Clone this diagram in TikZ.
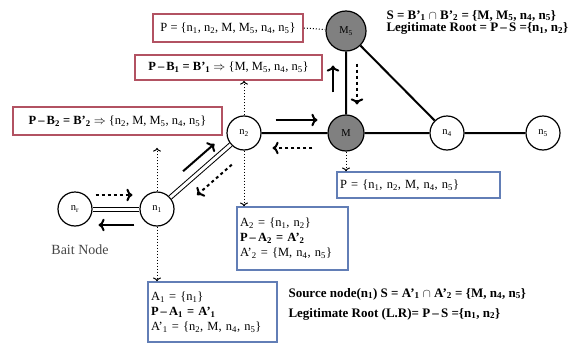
\documentclass[tikz,border=0pt]{standalone}
\usepackage{fontspec}
\setmainfont{Liberation Serif}
\usetikzlibrary{arrows,calc}
\usepackage{tkz-euclide}
\definecolor{NodeClr}{RGB}{128,128,128}
\definecolor{RedClr}{RGB}{178,82,98}
\definecolor{BlueClr}{RGB}{98,126,182}
\definecolor{TextClr}{RGB}{70,70,70}
\newcommand{\ix}[1]{\textsubscript{#1}}

\begin{document}
\begin{tikzpicture}[x=1pt,y=1pt,font=\fontsize{12.5}{15}\selectfont,
  vertex/.style={circle,draw,line width=1.2pt,minimum size=34pt,inner sep=0pt,font=\fontsize{10.5}{12}\selectfont},
  hub/.style={vertex,fill=NodeClr},
  link/.style={line width=2pt},
  twin/.style={line width=1pt,double,double distance=3pt},
  flow/.style={->,line width=2pt},
  info/.style={->,dotted,line width=1pt},
  redbox/.style={draw=RedClr,line width=1.6pt,inner sep=2pt},
  bluebox/.style={draw=BlueClr,line width=1.4pt,align=left,inner sep=3pt},
  note/.style={anchor=base west,font=\fontsize{13}{15}\selectfont\bfseries}]
\useasboundingbox (0,0) rectangle (580,349);

\tkzDefPoints{75/140/pR,157/140/pA,244/216/pB,346/216/pM,346/318/pN,447/216/pD,543/216/pE}

\node[vertex] (nr) at (pR) {n\ix{r}};
\node[vertex] (n1) at (pA) {n\ix1};
\node[vertex] (n2) at (pB) {n\ix2};
\node[hub,minimum size=36pt] (M) at (pM) {M};
\node[hub,minimum size=40pt] (M5) at (pN) {M\ix5};
\node[vertex] (n4) at (pD) {n\ix4};
\node[vertex] (n5) at (pE) {n\ix5};

\draw[twin] (nr) -- (n1);
\draw[twin] (n1) -- (n2);
\draw[link] (n2) -- (M) (M) -- (n4) (n4) -- (n5) (M) -- (M5) (M5) -- (n4);

\node[redbox,minimum width=150pt,minimum height=28pt] (Pr) at (228,321)
  {P = \{n\ix1, n\ix2, M, M\ix5, n\ix4, n\ix5\}};
\node[redbox,minimum width=187pt,minimum height=25pt] (Bone) at (228.5,281.5)
  {\textbf{P\,–\,B\ix1 = B'\ix1} $\Rightarrow$ \{M, M\ix5, n\ix4, n\ix5\}};
\node[redbox,minimum width=209pt,minimum height=28pt] (Btwo) at (117.5,228)
  {\textbf{P\,–\,B\ix2 = B'\ix2} $\Rightarrow$ \{n\ix2, M, M\ix5, n\ix4, n\ix5\}};
\node[bluebox,text width=157pt,minimum height=26pt] (Pb) at (418.5,164)
  {P = \{n\ix1, n\ix2, M, n\ix4, n\ix5\}};
\node[bluebox,text width=105pt,minimum height=63pt] (Atwo) at (292.5,110.5)
  {A\ix2 = \{n\ix1, n\ix2\}\\ \textbf{P\,–\,A\ix2 = A'\ix2}\\ A'\ix2 = \{M, n\ix4, n\ix5\}};
\node[bluebox,text width=123pt,minimum height=60pt] (Aone) at (212.5,37)
  {A\ix1 = \{n\ix1\}\\ \textbf{P\,–\,A\ix1 = A'\ix1}\\ A'\ix1 = \{n\ix2, M, n\ix4, n\ix5\}};

\node[note] (S) at (383,330) {S = B'\ix1 $\cap$ B'\ix2 = \{M, M\ix5, n\ix4, n\ix5\}};
\node[note] (LR) at (383,317) {Legitimate Root = P\,–\,S =\{n\ix1, n\ix2\}};
\node[note] (Src) at (285,52) {Source node(n\ix1) S = A'\ix1 $\cap$ A'\ix2 = \{M, n\ix4, n\ix5\}};
\node[note] (LRb) at (285,32) {Legitimate Root (L.R)= P\,–\,S =\{n\ix1, n\ix2\}};
\node[text=TextClr,font=\fontsize{14}{16}\selectfont] (bait) at (80,99) {Bait Node};

\draw[dotted,line width=1pt] (Pr.east) -- (M5);
\draw[info] (n2.north) -- (n2.north |- Bone.south);
\draw[info] (n2.south) -- (n2.south |- Atwo.north);
\draw[info,shorten >=12pt] (n1.north) -- (n1.north |- Btwo.south);
\draw[info] (n1.south) -- (n1.south |- Aone.north);
\draw[info] (M.south) -- (M.south |- Pb.north);

\draw[flow,dashed] ($(nr.east)+(3,14)$) -- ($(n1.west)+(-7,14)$);
\draw[flow] ($(n1.west)+(-5,-16)$) -- ($(nr.east)+(6,-16)$);
\draw[flow] ($(n1)!.3!(n2)+(0,15)$) -- ($(n1)!.66!(n2)+(0,15)$);
\draw[flow,dashed] ($(n1)!.86!(n2)+(0,-21)$) -- ($(n1)!.46!(n2)+(0,-21)$);
\draw[flow] ($(n2.east)+(14,13)$) -- ($(M.west)+(-10,13)$);
\draw[flow,dashed] ($(M.west)+(-15,-15)$) -- ($(n2.east)+(11,-15)$);
\draw[flow] ($(M.north)+(-13,22)$) -- ($(M5.south)+(-13,-14)$);
\draw[flow,dashed] ($(M5.south)+(11,-12)$) -- ($(M.north)+(11,10)$);

\end{tikzpicture}
\end{document}
